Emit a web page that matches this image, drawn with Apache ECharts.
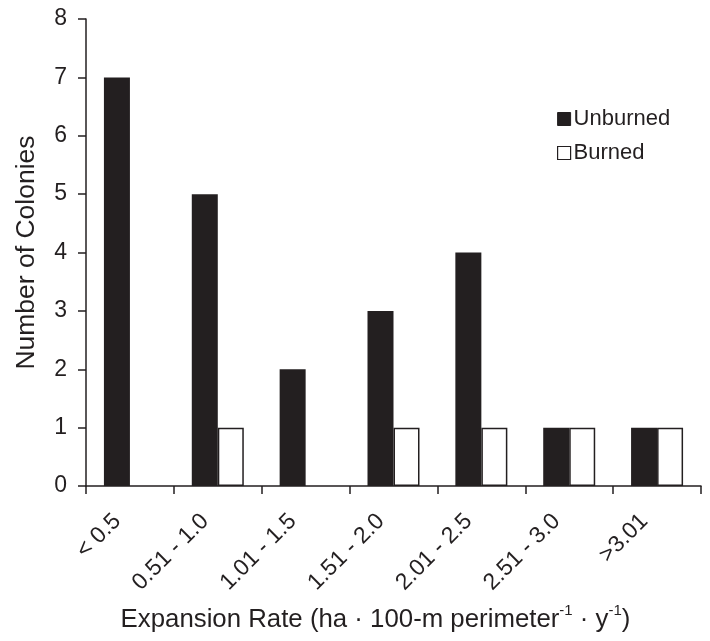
<!DOCTYPE html>
<html>
<head>
<meta charset="utf-8">
<script src="https://cdn.jsdelivr.net/npm/echarts@6/dist/echarts.min.js"></script>
<style>
html,body{margin:0;padding:0;background:#fff;}
#main{width:710px;height:641px;}
</style>
</head>
<body>
<div id="main"></div>
<script>
const categories = ['< 0.5', '0.51 - 1.0', '1.01 - 1.5', '1.51 - 2.0', '2.01 - 2.5', '2.51 - 3.0', '>3.01'];
const unburned = [7, 5, 2, 3, 4, 1, 1];
const burned = [0, 1, 0, 1, 1, 1, 1];
const yTicks = { min: 0, max: 8, interval: 1 };

const INK = '#231f20';
const FONT = '"Liberation Sans", Arial, Helvetica, sans-serif';

const chart = echarts.init(document.getElementById('main'), null, { renderer: 'canvas' });
chart.setOption({
  animation: false,
  backgroundColor: '#fff',
  textStyle: { fontFamily: FONT, color: INK },
  grid: { left: 86, right: 9, top: 19, bottom: 155, containLabel: false },
  legend: {
    orient: 'vertical',
    left: 552,
    top: 103,
    itemWidth: 13,
    itemHeight: 13,
    itemGap: 12,
    icon: 'rect',
    textStyle: { fontFamily: FONT, fontSize: 22, color: INK, padding: [0, 0, 0, -2] },
    data: [
      { name: 'Unburned', itemStyle: { color: INK, borderColor: INK, borderWidth: 1 } },
      { name: 'Burned', itemStyle: { color: '#fff', borderColor: INK, borderWidth: 1.2 } }
    ]
  },
  xAxis: {
    type: 'category',
    data: categories,
    axisLine: { show: true, lineStyle: { color: INK, width: 1.5 } },
    axisTick: { show: true, length: 8, lineStyle: { color: INK, width: 1.5 } },
    axisLabel: {
      rotate: 45,
      margin: 19,
      interval: 0,
      padding: [0, 18, 0, 0],
      fontFamily: FONT,
      fontSize: 23,
      color: INK
    },
    name: '{a|Expansion Rate (ha · 100-m perimeter}{s|-1}{a| · y}{s|-1}{a|)}',
    nameLocation: 'middle',
    nameGap: 117,
    nameTextStyle: {
      padding: [0, 36, 0, 0],
      rich: {
        a: { fontFamily: FONT, fontSize: 25.8, color: INK, lineHeight: 30, verticalAlign: 'bottom' },
        s: { fontFamily: FONT, fontSize: 15, color: INK, lineHeight: 30, verticalAlign: 'top' }
      }
    }
  },
  yAxis: {
    type: 'value',
    min: yTicks.min,
    max: yTicks.max,
    interval: yTicks.interval,
    splitLine: { show: false },
    axisLine: { show: true, lineStyle: { color: INK, width: 1.5 } },
    axisTick: { show: true, length: 8, lineStyle: { color: INK, width: 1.5 } },
    axisLabel: { margin: 19, fontFamily: FONT, fontSize: 23, color: INK },
    name: 'Number of Colonies',
    nameLocation: 'middle',
    nameGap: 46,
    nameTextStyle: { fontFamily: FONT, fontSize: 26.5, color: INK }
  },
  series: [
    {
      name: 'Unburned',
      type: 'bar',
      data: unburned,
      barWidth: 26,
      barGap: '0%',
      itemStyle: { color: INK, borderColor: INK, borderWidth: 0 }
    },
    {
      name: 'Burned',
      type: 'bar',
      data: burned.map(v => v === 0 ? { value: v, itemStyle: { borderWidth: 0 } } : v),
      barWidth: 26,
      itemStyle: { color: '#fff', borderColor: INK, borderWidth: 1.5 }
    }
  ]
});
</script>
</body>
</html>
